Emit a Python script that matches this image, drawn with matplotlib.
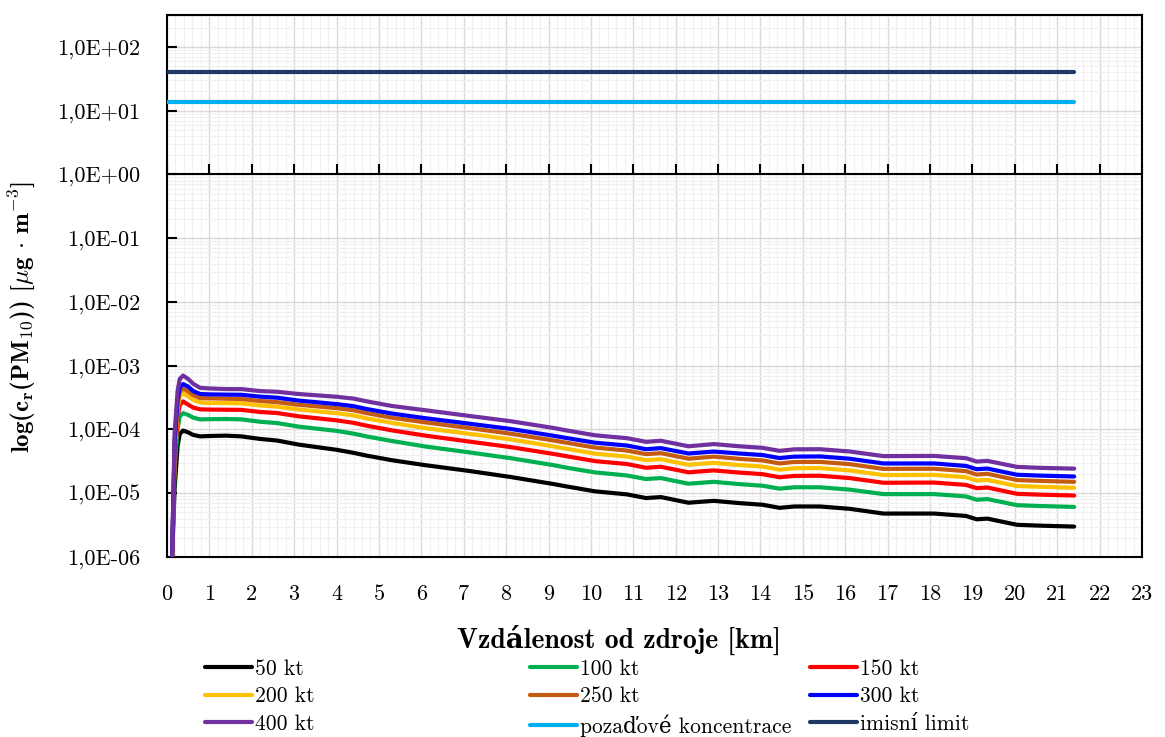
import numpy as np
import matplotlib
matplotlib.use('Agg')
import matplotlib.pyplot as plt
from matplotlib.ticker import MultipleLocator, LogLocator, NullFormatter

plt.rcParams['font.family'] = ['cmr10', 'DejaVu Serif']
plt.rcParams['mathtext.fontset'] = 'cm'
plt.rcParams['axes.unicode_minus'] = False

# distance from source [km]
dist = [0.12, 0.18, 0.25, 0.30, 0.38, 0.50, 0.62, 0.78, 1.0, 1.4, 1.75, 2.2, 2.6,
        3.1, 4.0, 4.4, 4.7, 5.3, 6.1, 7.1, 8.1, 9.1, 9.45, 10.1, 10.85, 11.3,
        11.65, 12.3, 12.9, 13.5, 14.05, 14.45, 14.8, 15.4, 16.1, 16.9, 18.1,
        18.85, 19.1, 19.35, 20.05, 20.6, 21.4]

c_50 = [1.0e-6, 1.2e-5, 5.5e-5, 8.5e-5, 9.6e-5, 9.0e-5, 8.2e-5, 7.8e-5, 7.9e-5,
        8.0e-5, 7.8e-5, 7.1e-5, 6.7e-5, 5.8e-5, 4.8e-5, 4.3e-5, 3.9e-5, 3.3e-5,
        2.75e-5, 2.25e-5, 1.8e-5, 1.4e-5, 1.27e-5, 1.07e-5, 9.6e-6, 8.4e-6,
        8.7e-6, 7.1e-6, 7.6e-6, 7.0e-6, 6.6e-6, 5.9e-6, 6.2e-6, 6.2e-6, 5.7e-6,
        4.8e-6, 4.8e-6, 4.4e-6, 3.9e-6, 4.0e-6, 3.2e-6, 3.1e-6, 3.0e-6]
c_100 = [1.0e-6, 2.3e-5, 1.04e-4, 1.6e-4, 1.8e-4, 1.69e-4, 1.53e-4, 1.44e-4, 1.45e-4,
         1.46e-4, 1.44e-4, 1.32e-4, 1.26e-4, 1.11e-4, 9.5e-5, 8.6e-5, 7.8e-5, 6.6e-5,
         5.4e-5, 4.4e-5, 3.55e-5, 2.77e-5, 2.5e-5, 2.12e-5, 1.9e-5, 1.67e-5,
         1.73e-5, 1.41e-5, 1.51e-5, 1.39e-5, 1.31e-5, 1.18e-5, 1.24e-5, 1.24e-5,
         1.14e-5, 9.7e-6, 9.7e-6, 8.9e-6, 7.9e-6, 8.1e-6, 6.5e-6, 6.3e-6, 6.1e-6]
c_150 = [1.0e-6, 3.3e-5, 1.55e-4, 2.4e-4, 2.75e-4, 2.45e-4, 2.2e-4, 2.07e-4, 2.05e-4,
         2.04e-4, 2.03e-4, 1.88e-4, 1.81e-4, 1.61e-4, 1.39e-4, 1.27e-4, 1.15e-4,
         9.7e-5, 8.0e-5, 6.5e-5, 5.3e-5, 4.15e-5, 3.78e-5, 3.19e-5, 2.87e-5,
         2.51e-5, 2.6e-5, 2.13e-5, 2.28e-5, 2.11e-5, 1.99e-5, 1.78e-5, 1.87e-5,
         1.88e-5, 1.73e-5, 1.46e-5, 1.47e-5, 1.35e-5, 1.2e-5, 1.23e-5, 9.8e-6,
         9.5e-6, 9.2e-6]
c_200 = [1.0e-6, 4.6e-5, 2.1e-4, 3.3e-4, 3.7e-4, 3.3e-4, 2.9e-4, 2.65e-4, 2.6e-4,
         2.6e-4, 2.57e-4, 2.38e-4, 2.28e-4, 2.06e-4, 1.8e-4, 1.66e-4, 1.5e-4,
         1.27e-4, 1.05e-4, 8.6e-5, 7.0e-5, 5.45e-5, 4.95e-5, 4.17e-5, 3.76e-5,
         3.3e-5, 3.41e-5, 2.8e-5, 3.0e-5, 2.77e-5, 2.62e-5, 2.34e-5, 2.47e-5,
         2.48e-5, 2.28e-5, 1.93e-5, 1.94e-5, 1.78e-5, 1.58e-5, 1.62e-5, 1.3e-5,
         1.26e-5, 1.22e-5]
c_250 = [1.0e-6, 5.5e-5, 2.5e-4, 3.9e-4, 4.4e-4, 3.95e-4, 3.45e-4, 3.1e-4, 3.08e-4,
         3.04e-4, 3.0e-4, 2.8e-4, 2.68e-4, 2.44e-4, 2.16e-4, 2.0e-4, 1.81e-4,
         1.53e-4, 1.29e-4, 1.06e-4, 8.6e-5, 6.75e-5, 6.15e-5, 5.2e-5, 4.67e-5,
         4.1e-5, 4.25e-5, 3.48e-5, 3.75e-5, 3.46e-5, 3.27e-5, 2.93e-5, 3.09e-5,
         3.1e-5, 2.86e-5, 2.41e-5, 2.42e-5, 2.22e-5, 1.96e-5, 2.02e-5, 1.61e-5,
         1.56e-5, 1.51e-5]
c_300 = [1.0e-6, 6.5e-5, 2.95e-4, 4.6e-4, 5.15e-4, 4.7e-4, 4.0e-4, 3.6e-4, 3.55e-4,
         3.52e-4, 3.5e-4, 3.27e-4, 3.15e-4, 2.84e-4, 2.5e-4, 2.32e-4, 2.1e-4,
         1.78e-4, 1.5e-4, 1.24e-4, 1.02e-4, 8.0e-5, 7.3e-5, 6.2e-5, 5.6e-5,
         4.9e-5, 5.1e-5, 4.2e-5, 4.5e-5, 4.2e-5, 3.97e-5, 3.56e-5, 3.75e-5,
         3.78e-5, 3.48e-5, 2.93e-5, 2.93e-5, 2.68e-5, 2.38e-5, 2.44e-5, 1.95e-5,
         1.89e-5, 1.83e-5]
c_400 = [1.0e-6, 8.8e-5, 4.0e-4, 6.2e-4, 7.0e-4, 6.2e-4, 5.2e-4, 4.5e-4, 4.4e-4,
         4.3e-4, 4.3e-4, 4.0e-4, 3.9e-4, 3.6e-4, 3.26e-4, 3.05e-4, 2.77e-4,
         2.34e-4, 2.0e-4, 1.64e-4, 1.35e-4, 1.06e-4, 9.6e-5, 8.1e-5, 7.3e-5,
         6.4e-5, 6.65e-5, 5.45e-5, 5.9e-5, 5.45e-5, 5.15e-5, 4.62e-5, 4.88e-5,
         4.9e-5, 4.52e-5, 3.82e-5, 3.85e-5, 3.54e-5, 3.14e-5, 3.22e-5, 2.59e-5,
         2.5e-5, 2.43e-5]

# background concentration and emission limit [ug/m3]
ref_dist = [0.0, 21.4]
background = [13.5, 13.5]
limit = [40.0, 40.0]

series = [('50 kt', c_50, '#000000'), ('100 kt', c_100, '#00B050'),
          ('150 kt', c_150, '#FF0000'), ('200 kt', c_200, '#FFC000'),
          ('250 kt', c_250, '#C55A11'), ('300 kt', c_300, '#0000FF'),
          ('400 kt', c_400, '#7030A0')]

yticks = [1e-6, 1e-5, 1e-4, 1e-3, 1e-2, 1e-1, 1e0, 1e1, 1e2]
ytick_labels = ['1,0E-06', '1,0E-05', '1,0E-04', '1,0E-03', '1,0E-02',
                '1,0E-01', '1,0E+00', '1,0E+01', '1,0E+02']
xticks = list(range(0, 24))

fig = plt.figure(figsize=(11.65, 7.37), dpi=100)
ax = fig.add_axes([167 / 1165, 1 - 557 / 737, 975 / 1165, 542 / 737])

lines = {}
for name, vals, col in series:
    lines[name], = ax.plot(dist, vals, color=col, lw=3, solid_capstyle='round',
                           solid_joinstyle='round', label=name, zorder=3)
lines['bg'], = ax.plot(ref_dist, background, color='#00B0F0', lw=3,
                       solid_capstyle='round', label='pozaďové koncentrace', zorder=3)
lines['lim'], = ax.plot(ref_dist, limit, color='#203864', lw=3,
                        solid_capstyle='round', label='imisní limit', zorder=3)

ax.set_yscale('log')
ax.set_ylim(1e-6, 10 ** 2.5)
ax.set_xlim(0, 23)

ax.set_yticks(yticks)
ax.set_yticklabels(ytick_labels)
ax.yaxis.set_minor_locator(LogLocator(base=10, subs=np.arange(2, 10), numticks=20))
ax.yaxis.set_minor_formatter(NullFormatter())
ax.set_xticks(xticks)
ax.set_xticklabels([str(t) for t in xticks])
ax.xaxis.set_minor_locator(MultipleLocator(0.2))

ax.tick_params(axis='y', which='major', direction='in', length=7, width=1.5,
               pad=19, labelsize=16)
ax.tick_params(axis='x', which='major', length=0, pad=20, labelsize=16)
ax.tick_params(which='minor', length=0)

ax.grid(which='major', color='#d9d9d9', lw=1.0, zorder=0)
ax.grid(which='minor', color='#f0f0f0', lw=0.8, zorder=0)
ax.set_axisbelow(True)

for s in ax.spines.values():
    s.set_linewidth(1.5)

# category axis crossing at 1,0E+00
ax.axhline(1.0, color='black', lw=1.5, zorder=4)
ax.plot(xticks, [1.0] * len(xticks), ls='none', marker=2, ms=7, mew=1.5,
        color='black', zorder=4, clip_on=False)

ax.set_xlabel('Vzdálenost od zdroje [km]', family=['cmb10', 'DejaVu Serif'],
              fontweight='bold', fontsize=20)
ax.xaxis.set_label_coords(0.464, -0.125)
ax.set_ylabel(r'log(c$_\mathbf{r}$(PM$_\mathbf{10}$)) [$\mu$g $\cdot$ m$^\mathbf{-3}$]',
              family=['cmb10', 'DejaVu Serif'], fontweight='bold', fontsize=18)
ax.yaxis.set_label_coords(-0.133, 0.443)

order = [['50 kt', '200 kt', '400 kt'],
         ['100 kt', '250 kt', 'bg'],
         ['150 kt', '300 kt', 'lim']]
col_x = [205, 530, 810]
for keys, x0 in zip(order, col_x):
    hs = [lines[k] for k in keys]
    fig.legend(hs, [h.get_label() for h in hs], loc='upper left',
               bbox_to_anchor=(x0 / 1165, 1 - 659 / 737), frameon=False,
               fontsize=15.5, handlelength=2.2, handletextpad=0.12,
               labelspacing=0.38, borderaxespad=0, borderpad=0)

fig.savefig('out.png', dpi=100)
